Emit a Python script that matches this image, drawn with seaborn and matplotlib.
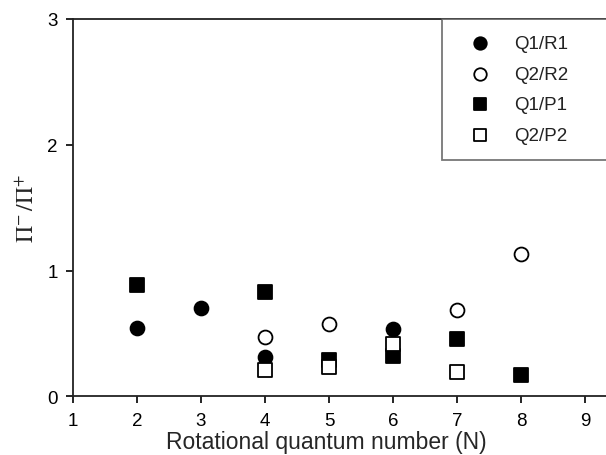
import matplotlib
matplotlib.use("Agg")
import matplotlib.pyplot as plt
import seaborn as sns
import pandas as pd

# Data
q1r1_N = [2, 3, 4, 6]
q1r1_v = [0.54, 0.70, 0.31, 0.535]
q2r2_N = [4, 5, 7, 8]
q2r2_v = [0.47, 0.575, 0.69, 1.13]
q1p1_N = [2, 4, 5, 6, 7, 8]
q1p1_v = [0.885, 0.83, 0.29, 0.32, 0.455, 0.17]
q2p2_N = [4, 5, 6, 7]
q2p2_v = [0.21, 0.23, 0.415, 0.19]

series = [
    ("Q1/R1", q1r1_N, q1r1_v, "o", "black"),
    ("Q2/R2", q2r2_N, q2r2_v, "o", "white"),
    ("Q1/P1", q1p1_N, q1p1_v, "s", "black"),
    ("Q2/P2", q2p2_N, q2p2_v, "s", "white"),
]

sns.set_theme(style="ticks")
plt.rcParams['font.family'] = ['Liberation Sans', 'DejaVu Sans']
plt.rcParams['mathtext.fontset'] = 'stix'

fig = plt.figure(figsize=(6.06, 4.56), dpi=100)
ax = fig.add_axes([73/606, 58.7/456, 544/606, 377.3/456])

for name, N, v, m, fc in series:
    df = pd.DataFrame({"N": N, "v": v})
    sns.scatterplot(data=df, x="N", y="v", marker=m, s=100,
                    color=fc, edgecolor="black", linewidth=1.3, ax=ax, label=name,
                    zorder=3)

ax.set_xlim(1, 9.5)
ax.set_ylim(0, 3)
ax.set_xticks(range(1, 10))
ax.set_yticks([0, 1, 2, 3])
ax.tick_params(direction="out", length=5, width=1.2, labelsize=13.5, colors="black", pad=6)
for sp in ["left", "bottom", "top"]:
    ax.spines[sp].set_linewidth(1.3)
    ax.spines[sp].set_color("#222222")
ax.spines["right"].set_visible(False)

ax.set_xlabel("Rotational quantum number (N)", fontsize=16.5, labelpad=2)
ax.xaxis.set_label_coords(0.465, -0.09)
ax.set_ylabel(r"$\Pi^{-}\,/\Pi^{+}$", fontsize=17, labelpad=6)

leg = ax.legend(loc="upper left", bbox_to_anchor=(442/606, 1 - 20/456 - 0.01, 0.6, 0.01),
                bbox_transform=fig.transFigure, mode="expand", frameon=True, fancybox=False,
                fontsize=13.5, borderpad=0.85, labelspacing=0.72, handletextpad=0.6,
                borderaxespad=0, markerscale=0.9, handlelength=2.4)
leg.get_frame().set_edgecolor("#555555")
leg.get_frame().set_linewidth(1.3)
leg.get_frame().set_boxstyle("square", pad=0)
leg.set_clip_on(False)
for t in leg.get_texts():
    t.set_color("#222222")

fig.savefig("out.png", dpi=100)
